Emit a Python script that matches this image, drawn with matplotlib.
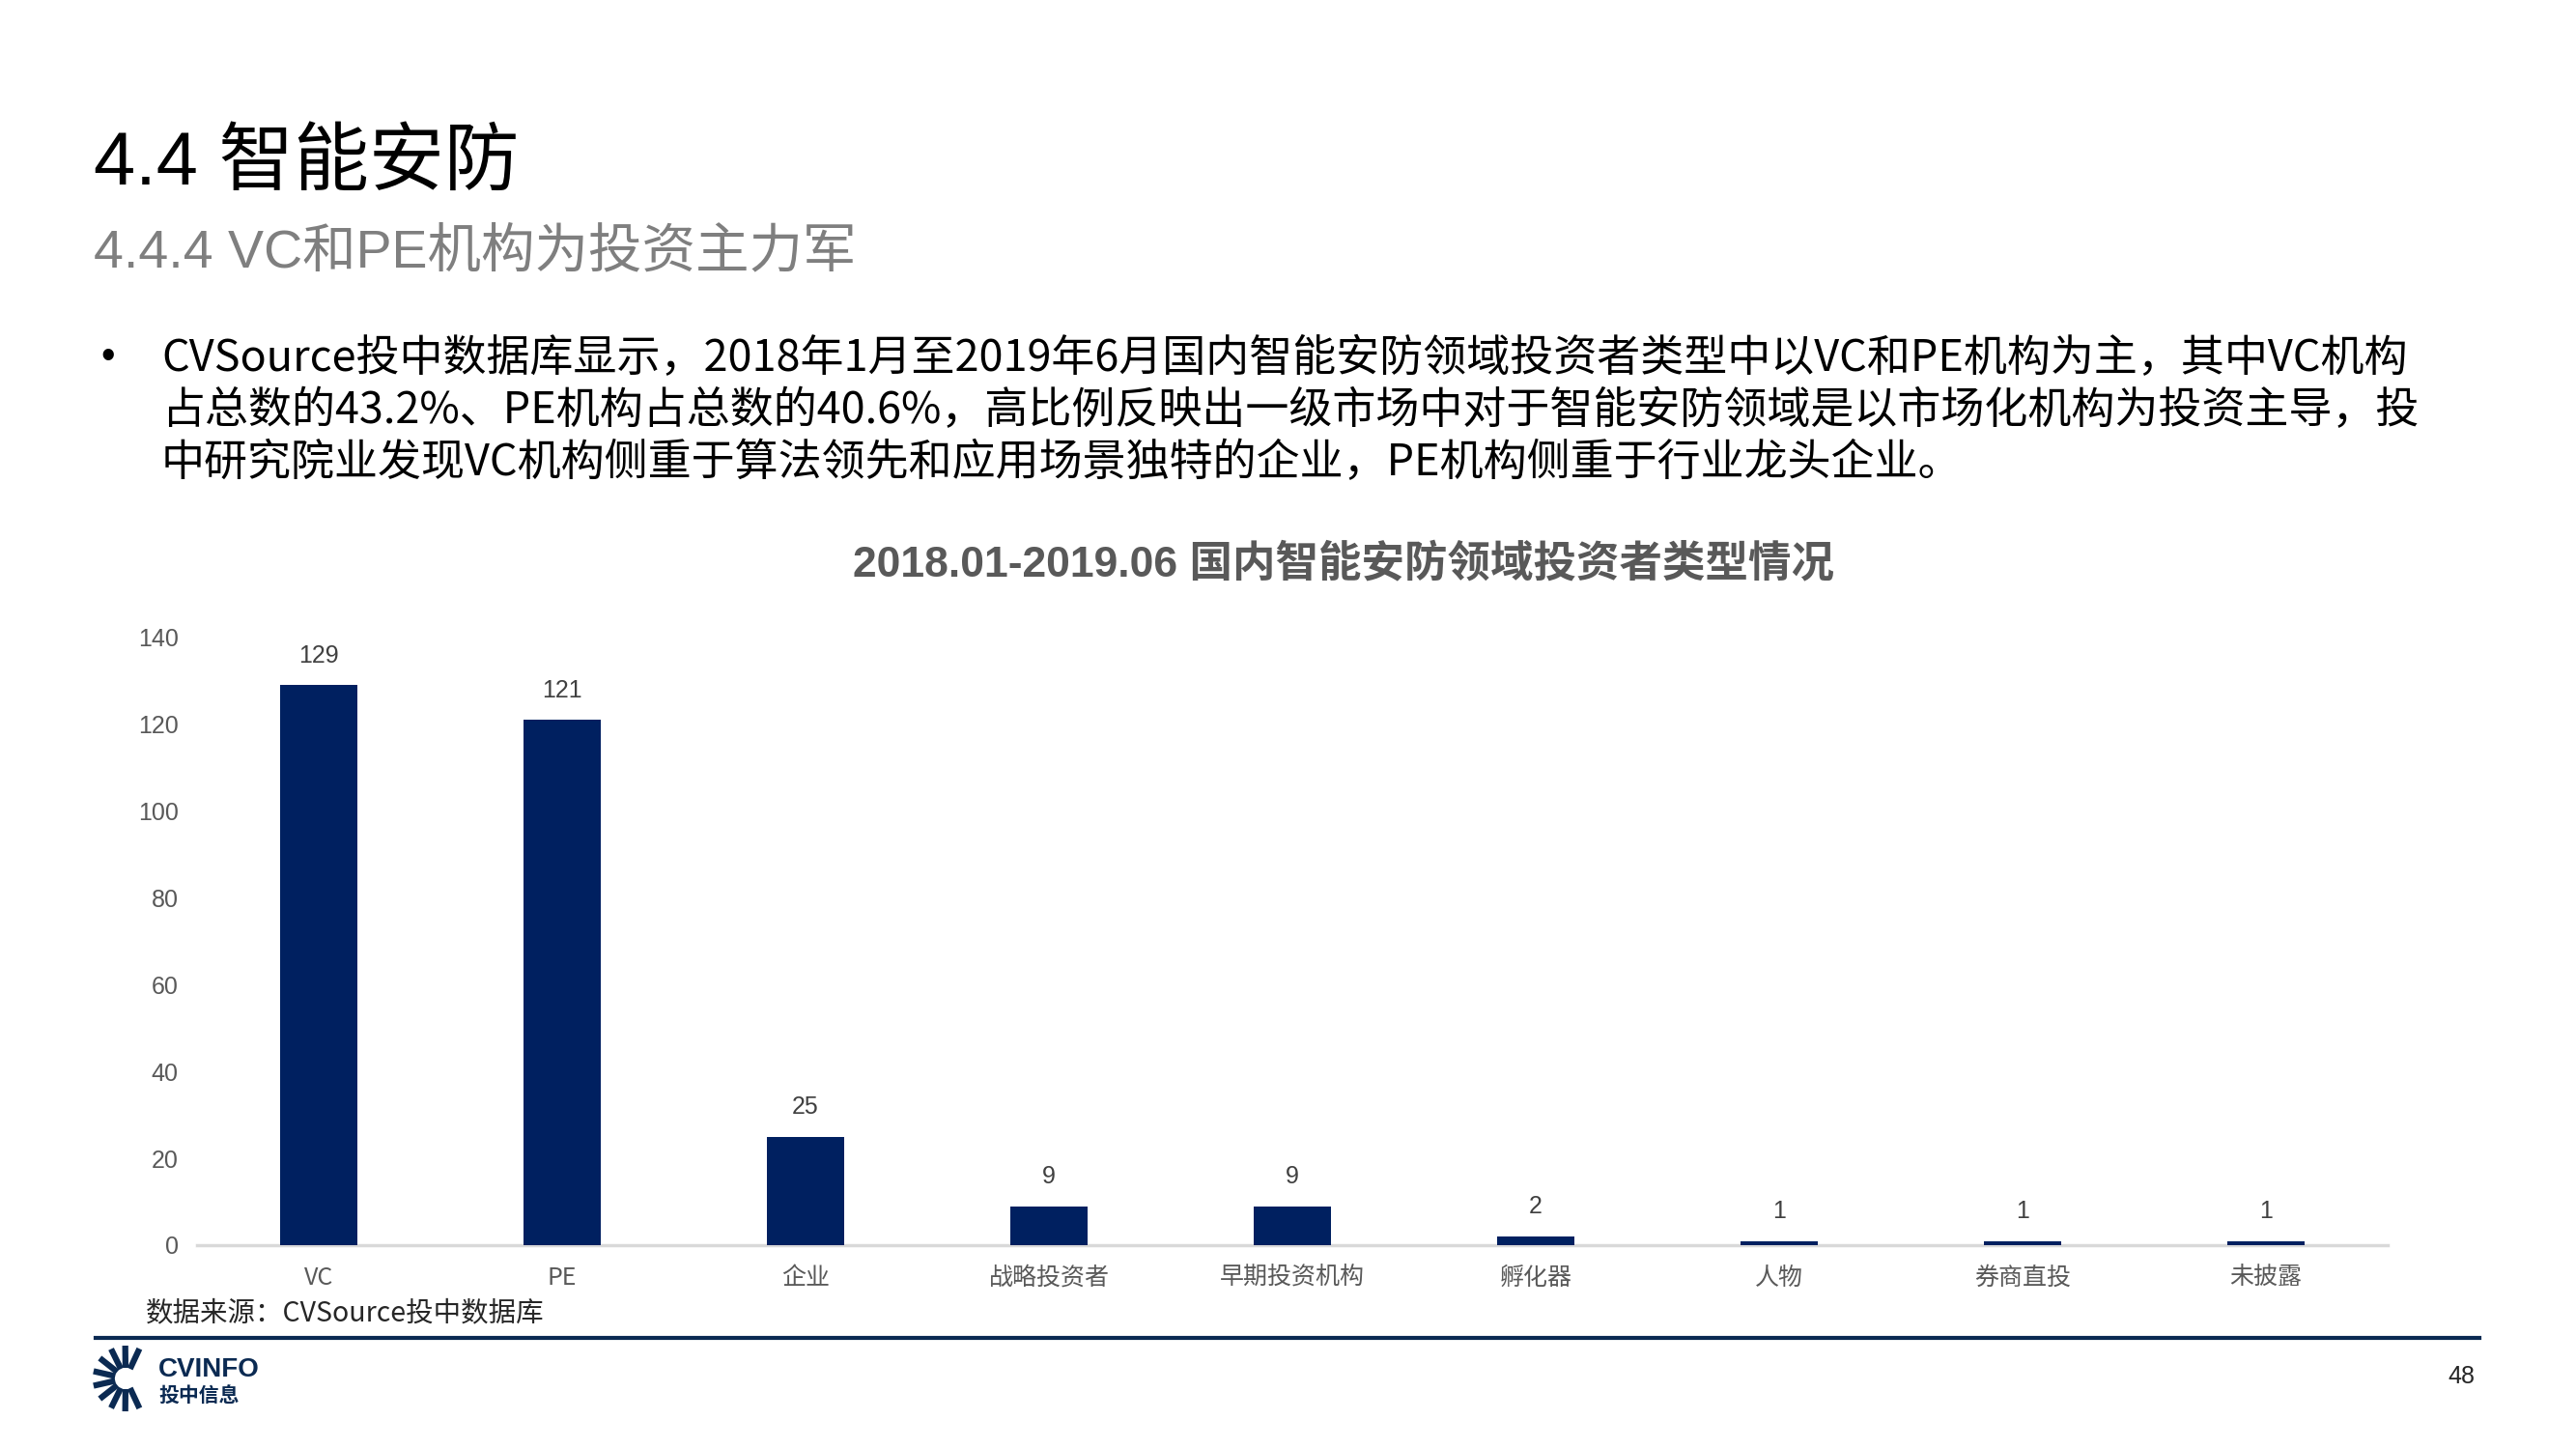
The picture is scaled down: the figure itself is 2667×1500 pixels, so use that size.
import matplotlib
matplotlib.use("Agg")
import matplotlib.pyplot as plt
from matplotlib.lines import Line2D
import numpy as np

plt.rcParams['font.family'] = ['Noto Sans CJK SC', 'DejaVu Sans']

categories = ['VC', 'PE', '企业', '战略投资者', '早期投资机构', '孵化器', '人物', '券商直投', '未披露']
counts = [129, 121, 25, 9, 9, 2, 1, 1, 1]
yticks = [0, 20, 40, 60, 80, 100, 120, 140]

page_title = '4.4 智能安防'
sub_title = '4.4.4 VC和PE机构为投资主力军'
bullet_lines = [
    'CVSource投中数据库显示，2018年1月至2019年6月国内智能安防领域投资者类型中以VC和PE机构为主，其中VC机构',
    '占总数的43.2%、PE机构占总数的40.6%，高比例反映出一级市场中对于智能安防领域是以市场化机构为投资主导，投',
    '中研究院业发现VC机构侧重于算法领先和应用场景独特的企业，PE机构侧重于行业龙头企业。',
]
chart_title = '2018.01-2019.06 国内智能安防领域投资者类型情况'
source = '数据来源：CVSource投中数据库'

W, H = 2667, 1500
navy = '#002060'
arial = ['Liberation Sans', 'Noto Sans CJK SC']

fig = plt.figure(figsize=(W / 100, H / 100), dpi=100)

def fx(px):
    return px / W

def fy(py):
    return 1 - py / H

# header texts
fig.text(fx(97), fy(170), page_title, family=arial, fontsize=56, color='black', va='center')
fig.text(fx(97), fy(262), sub_title, family=arial, fontsize=40, color='#7f7f7f', va='center')

fig.text(fx(104), fy(370), '•', family=arial, fontsize=30, color='black', va='center')
for i, line in enumerate(bullet_lines):
    fig.text(fx(167), fy(371 + i * 54), line, fontsize=32.4, color='black', va='center')

fig.text(fx(1391), fy(584), chart_title, family=arial, fontsize=32, fontweight='bold',
         color='#595959', ha='center', va='center')

# chart
ax = fig.add_axes([fx(204), fy(1289), fx(2472) - fx(204), (1289 - 660) / H])
x = np.arange(len(categories))
bars = ax.bar(x, counts, width=0.32, color=navy, zorder=2)
ax.set_xlim(-0.5, len(categories) - 0.5)
ax.set_ylim(0, 140)
ax.set_yticks(yticks)
ax.set_yticklabels([str(t) for t in yticks], family=arial, fontsize=18, color='#595959')
ax.set_xticks(x)
ax.set_xticklabels(categories, fontsize=18, color='#595959')
ax.tick_params(axis='both', length=0)
ax.tick_params(axis='y', pad=14)
ax.tick_params(axis='x', pad=15)
for s in ['top', 'right', 'left']:
    ax.spines[s].set_visible(False)
ax.spines['bottom'].set_color('#d9d9d9')
ax.spines['bottom'].set_linewidth(2.5)
ax.spines['bottom'].set_zorder(1)

for b, v in zip(bars, counts):
    ax.annotate(str(v), (b.get_x() + b.get_width() / 2, v), xytext=(0, 22),
                textcoords='offset points', ha='center', va='center',
                family=arial, fontsize=18, color='#404040')

fig.text(fx(151), fy(1359), source, fontsize=20.5, color='#262626', va='center')

# footer line
fig.add_artist(Line2D([fx(99), fx(2567)], [fy(1385), fy(1385)], color='#0b2a52', lw=3))

# logo
cx, cy = 130, 1427
for ang in np.linspace(65, 295, 10):
    a = np.deg2rad(ang)
    r0, r1 = 11, 34
    fig.add_artist(Line2D([fx(cx + r0 * np.cos(a)), fx(cx + r1 * np.cos(a))],
                          [fy(cy - r0 * np.sin(a)), fy(cy - r1 * np.sin(a))],
                          color='#0b2a52', lw=4.5, solid_capstyle='butt'))
fig.text(fx(164), fy(1418), 'CVINFO', family=arial, fontsize=20, fontweight='bold',
         color='#0b2a52', va='center')
fig.text(fx(164), fy(1445), '投中信息', fontsize=15, fontweight='bold', color='#0b2a52', va='center')

fig.text(fx(2562), fy(1425), '48', family=arial, fontsize=18, color='#262626', ha='right', va='center')

fig.savefig('out.png', dpi=100, facecolor='white')
